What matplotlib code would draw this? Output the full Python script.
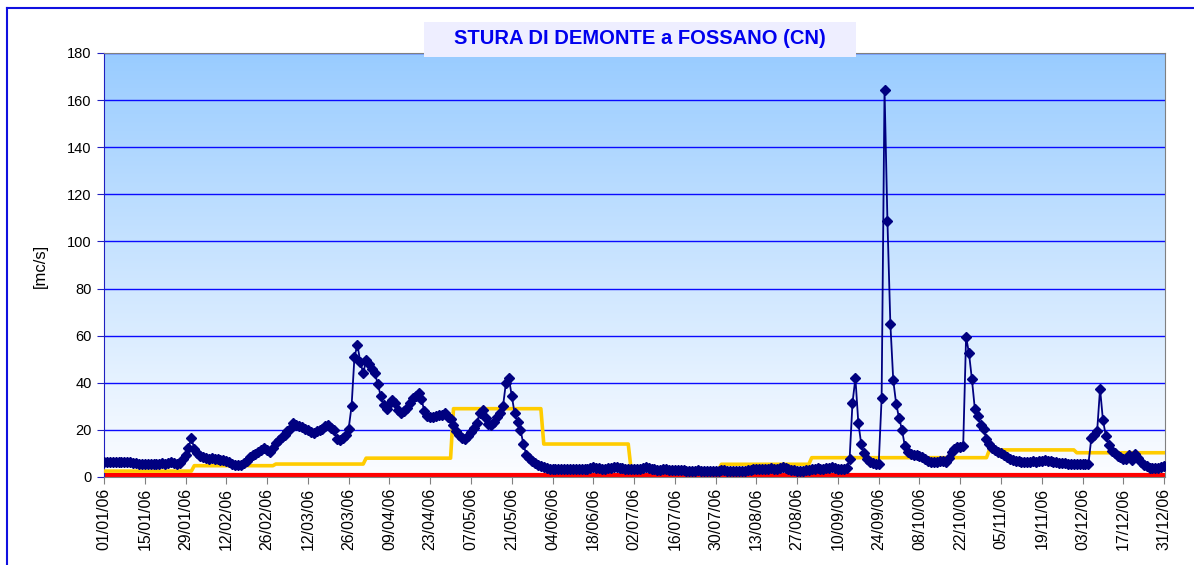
import numpy as np
import matplotlib
matplotlib.use("Agg")
import matplotlib.pyplot as plt
import matplotlib.dates as mdates
from matplotlib.lines import Line2D
from matplotlib.patches import Rectangle

plt.rcParams['font.family'] = ['Liberation Sans', 'DejaVu Sans']

# daily discharge 2006 [mc/s], one list per month
jan = [6.3, 6.4, 6.5, 6.4, 6.4, 6.5, 6.4, 6.3, 6.5, 6.3, 6.0, 5.8, 5.7, 5.6, 5.6, 5.6,
       5.7, 5.6, 5.6, 5.7, 5.8, 5.7, 6.0, 6.5, 5.9, 5.6, 5.8, 7.5, 9.5, 12.5, 16.5]
feb = [12.0, 10.0, 9.0, 8.3, 8.0, 7.8, 7.9, 7.8, 7.5, 7.3, 7.2, 7.0, 6.3, 5.6, 5.2, 5.1,
       5.3, 6.0, 7.0, 8.5, 9.3, 9.8, 10.5, 11.5, 12.2, 11.5, 10.7, 12.5]
mar = [14.3, 15.5, 17.0, 18.0, 19.5, 20.5, 22.8, 22.0, 21.5, 21.3, 20.5, 20.0, 19.0, 18.5,
       19.5, 20.0, 20.5, 21.5, 22.0, 21.0, 20.0, 16.0, 15.5, 16.5, 18.0, 20.5, 30.0, 51.0,
       56.0, 49.0, 44.0]
apr = [49.5, 48.0, 46.0, 44.0, 39.5, 34.5, 30.5, 29.0, 31.0, 32.5, 31.5, 28.5, 27.0, 28.0,
       29.5, 31.5, 33.5, 34.5, 35.5, 33.0, 28.0, 26.0, 25.5, 25.5, 26.0, 26.5, 26.3, 27.0,
       25.5, 24.5]
may = [22.0, 19.5, 18.0, 16.5, 16.0, 17.5, 19.0, 21.0, 23.0, 27.0, 28.5, 25.0, 22.5, 22.0,
       23.5, 25.5, 27.0, 30.0, 40.0, 42.0, 34.5, 27.0, 23.5, 20.0, 14.0, 9.5, 8.0, 7.0, 6.0,
       5.0, 4.5]
jun = [4.2, 3.8, 3.6, 3.5, 3.4, 3.3, 3.2, 3.3, 3.4, 3.5, 3.3, 3.2, 3.3, 3.5, 3.6, 3.5, 3.8,
       4.2, 4.0, 3.8, 3.6, 3.5, 3.7, 3.9, 4.3, 4.2, 3.9, 3.7, 3.6, 3.5]
jul = [3.4, 3.3, 3.4, 3.6, 3.8, 4.3, 3.9, 3.5, 3.2, 3.0, 3.1, 3.3, 3.2, 3.0, 2.9, 2.8, 2.9,
       3.0, 2.9, 2.7, 2.6, 2.6, 2.7, 2.8, 2.7, 2.6, 2.6, 2.5, 2.6, 2.7, 2.7]
aug = [2.8, 2.9, 2.7, 2.6, 2.6, 2.7, 2.6, 2.5, 2.6, 2.8, 3.0, 3.3, 3.4, 3.6, 3.5, 3.3, 3.5,
       3.8, 3.4, 3.2, 3.9, 4.2, 3.8, 3.4, 3.0, 2.8, 2.7, 2.6, 2.7, 2.9, 3.1]
sep = [3.3, 3.6, 3.8, 3.6, 3.5, 3.7, 4.0, 4.2, 3.9, 3.6, 3.4, 3.5, 3.8, 7.5, 31.5, 42.0,
       23.0, 14.0, 10.0, 7.5, 6.5, 6.0, 5.5, 5.5, 33.5, 164.5, 108.5, 65.0, 41.0, 31.0]
oct_ = [25.0, 20.0, 13.0, 10.5, 9.8, 9.5, 9.3, 8.8, 8.5, 7.5, 7.0, 6.5, 6.3, 6.5, 7.0, 6.8,
        6.5, 8.0, 10.5, 12.0, 12.6, 12.8, 13.0, 59.5, 52.5, 41.5, 29.0, 26.0, 22.0, 20.5, 16.0]
nov = [14.0, 12.5, 11.5, 10.5, 10.0, 9.3, 8.5, 7.5, 7.2, 7.0, 6.6, 6.4, 6.2, 6.3, 6.5, 6.6,
       6.4, 6.6, 7.0, 7.2, 7.0, 6.7, 6.5, 6.3, 6.1, 6.0, 5.8, 5.6, 5.5, 5.5]
dec = [5.5, 5.5, 5.5, 5.5, 5.5, 16.5, 18.0, 19.5, 37.5, 24.0, 17.5, 13.5, 11.0, 10.0, 9.0,
       8.5, 7.5, 7.8, 9.3, 7.2, 9.6, 8.0, 6.5, 5.0, 4.5, 4.0, 3.8, 3.8, 4.0, 4.2, 4.8]
months = [jan, feb, mar, apr, may, jun, jul, aug, sep, oct_, nov, dec]

# monthly reference flow (yellow) and constant minimum flow (red)
yellow_month = [2.5, 4.8, 5.5, 8.0, 29.0, 14.0, 3.0, 5.4, 8.2, 8.2, 11.5, 10.3]
red_value = 0.9

title = 'STURA DI DEMONTE a FOSSANO (CN)'
ylabel = '[mc/s]'

q = np.concatenate([np.array(m, float) for m in months])
yellow = np.concatenate([np.full(len(m), v) for m, v in zip(months, yellow_month)])
days = np.arange('2006-01-01', '2007-01-01', dtype='datetime64[D]')
x = mdates.date2num(days)

W, H = 1194, 565
fig = plt.figure(figsize=(W / 100, H / 100), dpi=100)
ax = fig.add_axes([104 / W, 1 - 477 / H, (1165 - 104) / W, (477 - 53) / H])

# gradient background: light blue on top fading to white
grad = np.linspace(0, 1, 256)[:, None]
c_top = np.array([153, 204, 255]) / 255.
c_bot = np.array([252, 253, 255]) / 255.
img = c_top[None, None, :] * (1 - grad[..., None]) + c_bot[None, None, :] * grad[..., None]
ax.imshow(img, extent=[0, 1, 0, 1], transform=ax.transAxes, aspect='auto', zorder=0)

ax.set_ylim(0, 180)
ax.set_yticks(np.arange(0, 181, 20))
ax.set_xlim(x[0], x[-1] + 0.3)
ax.grid(axis='y', color='#0a0aff', lw=1.0, zorder=1)
ax.set_axisbelow(True)

ax.plot(x, np.full(len(x), red_value), color='#ff0000', lw=3, zorder=2)
ax.plot(x, yellow, color='#ffcc00', lw=2.6, zorder=3)
ax.plot(x, q, color='#000080', lw=1.3, marker='D', ms=5.5, mfc='#000080', mec='#000080', zorder=4)

ax.set_xticks(x[::14])
ax.xaxis.set_major_formatter(mdates.DateFormatter('%d/%m/%y'))
plt.setp(ax.get_xticklabels(), rotation=90, fontsize=11.5)
plt.setp(ax.get_yticklabels(), fontsize=10.5)
ax.tick_params(axis='x', direction='out', length=5, color='#808080', pad=3)
ax.tick_params(axis='y', direction='out', length=5, color='#2020c0', pad=4)

for s in ['top', 'right']:
    ax.spines[s].set_color('#808080')
ax.spines['left'].set_color('#2020c0')
ax.spines['bottom'].set_color('#808080')

fig.text(40 / W, 1 - 266 / H, ylabel, rotation=90, ha='center', va='center', fontsize=12)

# title box
fig.add_artist(Rectangle((424 / W, 1 - 57 / H), (856 - 424) / W, (57 - 22) / H,
                         transform=fig.transFigure, facecolor='#eeeeff', edgecolor='none', zorder=9))
fig.text(640 / W, 1 - 39 / H, title, ha='center', va='center', fontsize=14.5, fontweight='bold',
         color='#0000ee', zorder=10)

# outer chart border (left and top visible)
fig.add_artist(Line2D([7 / W, 7 / W], [0, 1 - 8 / H], transform=fig.transFigure, color='#1010e0', lw=1.5))
fig.add_artist(Line2D([7 / W, 1], [1 - 8 / H, 1 - 8 / H], transform=fig.transFigure, color='#1010e0', lw=1.5))

fig.savefig('out.png', dpi=100)
